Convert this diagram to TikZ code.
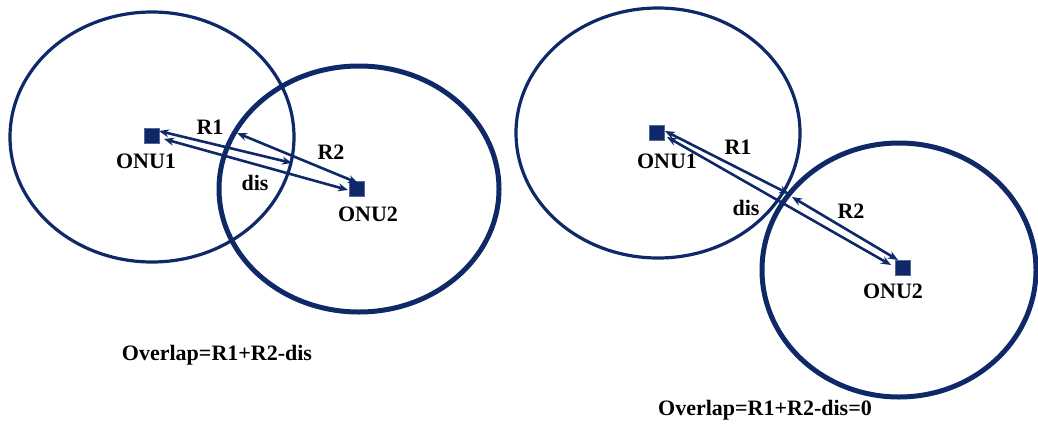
\documentclass[tikz,border=0pt]{standalone}
\usepackage{fontspec}
\setmainfont{Liberation Serif}
\usetikzlibrary{arrows.meta}
\definecolor{navy}{RGB}{14,40,104}
\tikzset{
  zone/.style={draw=navy, line width=3.2pt},
  zonebold/.style={draw=navy, line width=5pt},
  onu/.style={fill=navy, draw=navy!70, minimum size=15pt, inner sep=0pt},
  lbl/.style={font=\fontsize{22}{25}\selectfont\bfseries, inner sep=0pt},
  dimline/.style={draw=navy, line width=2.6pt, {Stealth[length=10pt,width=8pt]}-{Stealth[length=10pt,width=8pt]}}
}
\begin{document}
\begin{tikzpicture}[x=1pt,y=-1pt]
\useasboundingbox (0,0) rectangle (1038,426);

% left pair: overlapping ranges
\draw[zone] (152,137) ellipse [x radius=142, y radius=125];
\draw[zonebold] (359,189) ellipse [x radius=140, y radius=123];
\node[onu] (a1) at (152,136) {};
\node[onu] (a2) at (357,189) {};
\node[lbl] (a1t) at (146,161) {ONU1};
\node[lbl] (a2t) at (368,214) {ONU2};
\coordinate (a1r) at (159,131);
\coordinate (a1e) at (292,163);
\coordinate (a2r) at (237,133);
\coordinate (a2e) at (358,183);
\coordinate (a1d) at (164,139);
\coordinate (a2d) at (348,190);
\draw[dimline] (a1r) -- (a1e);
\draw[dimline] (a2r) -- (a2e);
\draw[dimline] (a1d) -- (a2d);
\node[lbl] (ar1) at (210,127) {R1};
\node[lbl] (ar2) at (331,152) {R2};
\node[lbl] (ads) at (255,183) {dis};
\node[lbl] (aov) at (217,355) {Overlap=R1+R2-dis};

% right pair: ranges just touching
\draw[zone] (658,133) ellipse [x radius=142, y radius=125];
\draw[zonebold] (899,270) ellipse [x radius=137, y radius=127];
\node[onu] (b1) at (657,133) {};
\node[onu] (b2) at (903,268) {};
\node[lbl] (b1t) at (667,161) {ONU1};
\node[lbl] (b2t) at (893,291) {ONU2};
\coordinate (b1r) at (665,131);
\coordinate (b1e) at (789,194);
\coordinate (b2r) at (792,197);
\coordinate (b2e) at (898,260);
\coordinate (b1d) at (667,137);
\coordinate (b2d) at (891,265);
\draw[dimline] (b1r) -- (b1e);
\draw[dimline] (b2r) -- (b2e);
\draw[dimline] (b1d) -- (b2d);
\node[lbl] (br1) at (738,147) {R1};
\node[lbl] (br2) at (851,211) {R2};
\node[lbl] (bds) at (746,208) {dis};
\node[lbl] (bov) at (765,410) {Overlap=R1+R2-dis=0};
\end{tikzpicture}
\end{document}
